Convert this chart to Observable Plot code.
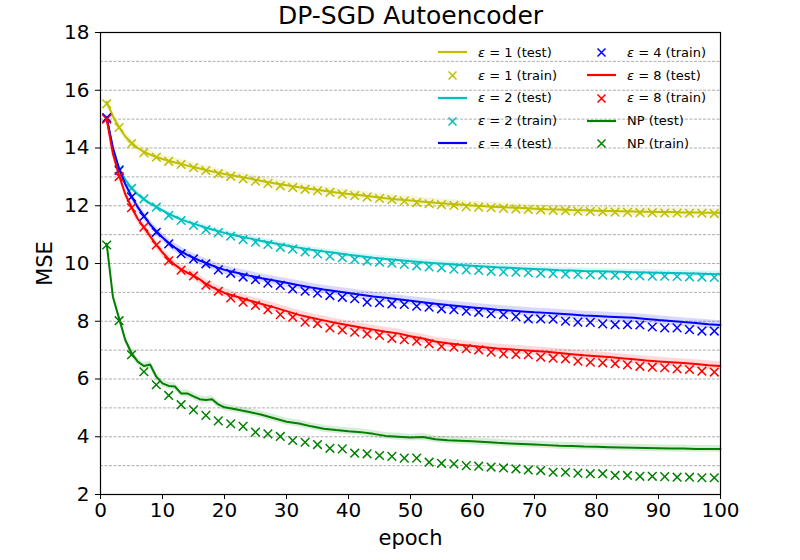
<!DOCTYPE html>
<html>
<head>
<meta charset="utf-8">
<script src="https://cdn.jsdelivr.net/npm/d3@7"></script>
<script src="https://cdn.jsdelivr.net/npm/@observablehq/plot@0.6"></script>
<style>
  body { margin: 0; background: #fff; }
  #wrap { position: relative; width: 800px; height: 560px; font-family: "DejaVu Sans", sans-serif; }
  .leg { position: absolute; height: 20px; display: flex; align-items: center; font-size: 13px; color: #000; white-space: nowrap; }
  .leg svg { display: block; }
  .leg span { margin-left: 11px; }
</style>
</head>
<body>
<div id="wrap"></div>
<script>
// ---- data ----
const titleText = "DP-SGD Autoencoder";
const xLabel = "epoch";
const yLabel = "MSE";
const xTicks = [0, 10, 20, 30, 40, 50, 60, 70, 80, 90, 100];
const yTicks = [2, 4, 6, 8, 10, 12, 14, 16, 18];
const gridValues = [3, 4, 5, 6, 7, 8, 9, 10, 11, 12, 13, 14, 15, 16, 17];

const testEpochs = [...d3.range(1, 21), ...d3.range(22, 101, 2)];
const trainEpochs = d3.range(1, 100, 2);

const eps1Test = [15.6, 15.1, 14.72, 14.4, 14.18, 14.0, 13.87, 13.77, 13.69, 13.62,
  13.56, 13.5, 13.45, 13.39, 13.34, 13.29, 13.24, 13.19, 13.14, 13.1,
  13.02, 12.94, 12.86, 12.78, 12.71, 12.64, 12.58, 12.52, 12.46, 12.41,
  12.36, 12.31, 12.26, 12.22, 12.18, 12.14, 12.1, 12.07, 12.04, 12.01,
  11.98, 11.96, 11.94, 11.92, 11.9, 11.88, 11.87, 11.85, 11.84, 11.83,
  11.82, 11.81, 11.8, 11.79, 11.78, 11.78, 11.77, 11.77, 11.76, 11.76];
const eps1Train = [15.53, 14.71, 14.15, 13.84, 13.68, 13.54, 13.43, 13.32, 13.22, 13.11,
  13.02, 12.93, 12.85, 12.77, 12.69, 12.63, 12.57, 12.52, 12.46, 12.4,
  12.35, 12.3, 12.25, 12.21, 12.16, 12.11, 12.07, 12.04, 12.01, 11.97,
  11.95, 11.93, 11.91, 11.89, 11.87, 11.86, 11.84, 11.83, 11.81, 11.8,
  11.79, 11.78, 11.77, 11.76, 11.76, 11.75, 11.75, 11.74, 11.74, 11.73];

const eps2Test = [15.05, 14.0, 13.28, 12.9, 12.62, 12.4, 12.22, 12.08, 11.96, 11.84,
  11.72, 11.62, 11.53, 11.45, 11.38, 11.31, 11.24, 11.18, 11.12, 11.06,
  10.96, 10.87, 10.78, 10.7, 10.62, 10.55, 10.48, 10.42, 10.36, 10.3,
  10.25, 10.2, 10.16, 10.12, 10.08, 10.04, 10.01, 9.98, 9.95, 9.92,
  9.9, 9.87, 9.85, 9.83, 9.81, 9.79, 9.77, 9.76, 9.74, 9.73,
  9.72, 9.71, 9.7, 9.69, 9.68, 9.67, 9.66, 9.65, 9.64, 9.63];
const eps2Train = [15.02, 13.25, 12.6, 12.24, 11.95, 11.66, 11.49, 11.32, 11.17, 11.07,
  10.95, 10.83, 10.74, 10.66, 10.56, 10.5, 10.4, 10.33, 10.25, 10.2,
  10.14, 10.08, 10.05, 10.01, 9.97, 9.92, 9.88, 9.85, 9.8, 9.78,
  9.76, 9.73, 9.71, 9.7, 9.68, 9.66, 9.65, 9.63, 9.62, 9.61,
  9.6, 9.59, 9.58, 9.57, 9.56, 9.56, 9.55, 9.54, 9.53, 9.52];

const eps4Test = [15.05, 14.0, 13.28, 12.75, 12.33, 11.95, 11.65, 11.35, 11.12, 10.9,
  10.72, 10.55, 10.42, 10.3, 10.2, 10.1, 10.02, 9.93, 9.85, 9.78,
  9.68, 9.58, 9.49, 9.41, 9.33, 9.25, 9.17, 9.1, 9.04, 8.98,
  8.92, 8.86, 8.81, 8.76, 8.71, 8.66, 8.61, 8.56, 8.52, 8.48,
  8.44, 8.4, 8.37, 8.34, 8.31, 8.29, 8.26, 8.23, 8.2, 8.18,
  8.16, 8.14, 8.12, 8.08, 8.04, 8.01, 7.97, 7.94, 7.9, 7.87];
const eps4Train = [15.05, 13.22, 12.3, 11.63, 11.08, 10.68, 10.34, 10.16, 9.99, 9.78,
  9.66, 9.53, 9.44, 9.32, 9.24, 9.12, 9.04, 8.97, 8.89, 8.83,
  8.78, 8.66, 8.64, 8.6, 8.58, 8.52, 8.49, 8.43, 8.4, 8.35,
  8.31, 8.26, 8.23, 8.16, 8.08, 8.08, 8.07, 8.0, 7.97, 7.96,
  7.91, 7.88, 7.88, 7.87, 7.8, 7.77, 7.77, 7.71, 7.66, 7.66];

const eps8Test = [15.0, 13.8, 13.05, 12.4, 11.95, 11.55, 11.25, 10.95, 10.65, 10.38,
  10.15, 9.95, 9.8, 9.68, 9.58, 9.45, 9.3, 9.18, 9.08, 8.98,
  8.85, 8.72, 8.6, 8.48, 8.35, 8.22, 8.12, 8.03, 7.94, 7.86,
  7.78, 7.71, 7.64, 7.58, 7.48, 7.4, 7.3, 7.24, 7.19, 7.14,
  7.1, 7.06, 7.03, 7.0, 6.97, 6.94, 6.9, 6.86, 6.82, 6.79,
  6.76, 6.72, 6.68, 6.64, 6.61, 6.58, 6.55, 6.52, 6.48, 6.45];
const eps8Train = [15.0, 13.01, 11.93, 11.26, 10.64, 10.09, 9.77, 9.57, 9.25, 9.04,
  8.81, 8.66, 8.55, 8.4, 8.23, 8.14, 7.97, 7.92, 7.77, 7.7,
  7.62, 7.56, 7.51, 7.41, 7.36, 7.31, 7.22, 7.13, 7.1, 7.05,
  7.01, 6.93, 6.87, 6.85, 6.84, 6.76, 6.72, 6.7, 6.62, 6.58,
  6.56, 6.53, 6.49, 6.44, 6.41, 6.39, 6.35, 6.33, 6.27, 6.24];

const npTest = [10.68, 8.85, 8.1, 7.35, 6.9, 6.6, 6.45, 6.5, 6.08, 5.85,
  5.76, 5.74, 5.5, 5.5, 5.4, 5.3, 5.27, 5.3, 5.12, 5.02,
  4.94, 4.86, 4.76, 4.64, 4.52, 4.46, 4.36, 4.28, 4.23, 4.19,
  4.16, 4.1, 4.03, 4.0, 3.97, 3.99, 3.91, 3.88, 3.86, 3.84,
  3.82, 3.79, 3.77, 3.75, 3.73, 3.71, 3.69, 3.68, 3.66, 3.65,
  3.64, 3.63, 3.62, 3.61, 3.6, 3.59, 3.59, 3.58, 3.58, 3.58];
const npTrain = [10.64, 8.02, 6.84, 6.25, 5.8, 5.43, 5.11, 4.93, 4.74, 4.55,
  4.45, 4.36, 4.16, 4.1, 4.01, 3.87, 3.81, 3.73, 3.6, 3.58,
  3.43, 3.41, 3.35, 3.32, 3.26, 3.26, 3.12, 3.08, 3.06, 3.0,
  2.98, 2.95, 2.92, 2.89, 2.85, 2.83, 2.77, 2.77, 2.74, 2.72,
  2.72, 2.66, 2.66, 2.63, 2.63, 2.62, 2.6, 2.6, 2.58, 2.58];

// half-width of the shaded band around each test curve
const eps1Spread = 0.15, eps2Spread = 0.1, eps4Spread = 0.15, eps8Spread = 0.15, npSpread = 0.12;

const seriesNames = ["ε = 1", "ε = 2", "ε = 4", "ε = 8", "NP"];
const seriesColors = ["#bfbf00", "#00bfbf", "#0000ff", "#ff0000", "#008000"];
const testSeries = [eps1Test, eps2Test, eps4Test, eps8Test, npTest];
const trainSeries = [eps1Train, eps2Train, eps4Train, eps8Train, npTrain];
const spreads = [eps1Spread, eps2Spread, eps4Spread, eps8Spread, npSpread];

// ---- build ----
const marks = [];
marks.push(Plot.ruleY(gridValues, {stroke: "#999", strokeWidth: 0.8, strokeDasharray: "3,1.5"}));
seriesNames.forEach((name, k) => {
  const rows = testEpochs.map((e, i) => ({epoch: e, mse: testSeries[k][i], lo: testSeries[k][i] - spreads[k], hi: testSeries[k][i] + spreads[k]}));
  marks.push(Plot.areaY(rows, {x: "epoch", y1: "lo", y2: "hi", fill: seriesColors[k], fillOpacity: 0.15}));
});
seriesNames.forEach((name, k) => {
  const rows = testEpochs.map((e, i) => ({epoch: e, mse: testSeries[k][i]}));
  const trows = trainEpochs.map((e, i) => ({epoch: e, mse: trainSeries[k][i]}));
  marks.push(Plot.line(rows, {x: "epoch", y: "mse", stroke: seriesColors[k], strokeWidth: 2}));
  marks.push(Plot.dot(trows, {x: "epoch", y: "mse", symbol: "times", r: 4, stroke: seriesColors[k], strokeWidth: 1.5}));
});
marks.push(Plot.frame({stroke: "#000", strokeWidth: 1.2}));
marks.push(Plot.axisX(xTicks, {tickSize: 5, tickPadding: 3, fontSize: 20, label: null}));
marks.push(Plot.axisY(yTicks, {tickSize: 5, tickPadding: 6, fontSize: 20, label: null}));
marks.push(Plot.text([titleText], {frameAnchor: "top", lineAnchor: "middle", dy: -17, fontSize: 25, fill: "#000"}));
marks.push(Plot.text([xLabel], {frameAnchor: "bottom", lineAnchor: "middle", dy: 44, fontSize: 21, fill: "#000"}));
marks.push(Plot.text([yLabel], {frameAnchor: "left", lineAnchor: "middle", textAnchor: "middle", dx: -55, rotate: -90, fontSize: 21, fill: "#000"}));

const chart = Plot.plot({
  width: 800,
  height: 560,
  marginLeft: 100,
  marginRight: 80,
  marginTop: 32,
  marginBottom: 66,
  style: {fontFamily: "DejaVu Sans, sans-serif", background: "#fff", color: "#000", overflow: "visible"},
  x: {domain: [0, 100]},
  y: {domain: [2, 18]},
  marks
});
const wrap = document.getElementById("wrap");
wrap.appendChild(chart);

// ---- legend (two columns, top right inside the plot) ----
const legendItems = [];
seriesNames.forEach((name, k) => {
  legendItems.push({kind: "line", color: seriesColors[k], name, suffix: " (test)"});
  legendItems.push({kind: "x", color: seriesColors[k], name, suffix: " (train)"});
});
const colLeft = [438, 587];
const rowCenter = [52, 75, 97.5, 120.5, 143];
legendItems.forEach((it, i) => {
  const col = Math.floor(i / 5), row = i % 5;
  const div = document.createElement("div");
  div.className = "leg";
  div.style.left = colLeft[col] + "px";
  div.style.top = (rowCenter[row] - 10) + "px";
  const sample = it.kind === "line"
    ? `<svg width="29" height="20"><line x1="0" y1="10" x2="29" y2="10" stroke="${it.color}" stroke-width="2.2"/></svg>`
    : `<svg width="29" height="20"><path d="M10.5,6.5L18.5,14.5M18.5,6.5L10.5,14.5" stroke="${it.color}" stroke-width="1.5" fill="none"/></svg>`;
  const label = it.name.startsWith("ε")
    ? `<i>ε</i>${it.name.slice(1)}${it.suffix}`
    : `${it.name}${it.suffix}`;
  div.innerHTML = sample + `<span>${label}</span>`;
  wrap.appendChild(div);
});
</script>
</body>
</html>
